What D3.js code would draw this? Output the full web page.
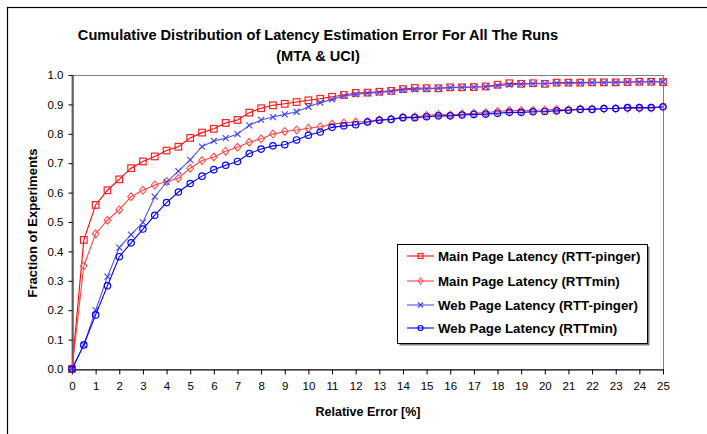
<!DOCTYPE html>
<html><head><meta charset="utf-8">
<script src="https://cdn.jsdelivr.net/npm/d3@7"></script>
<style>
html,body{margin:0;padding:0;background:#fff;}
svg{display:block;font-family:"Liberation Sans",Arial,sans-serif;}
</style></head>
<body><svg id="c" width="707" height="434"></svg>
<script>
const titleLines = ["Cumulative Distribution of Latency Estimation Error For All The Runs", "(MTA & UCI)"];
const xLabel = "Relative Error [%]";
const yLabel = "Fraction of Experiments";
const xTicks = [0,1,2,3,4,5,6,7,8,9,10,11,12,13,14,15,16,17,18,19,20,21,22,23,24,25];
const yTicks = [0,0.1,0.2,0.3,0.4,0.5,0.6,0.7,0.8,0.9,1.0];
const errors = [0,0.5,1,1.5,2,2.5,3,3.5,4,4.5,5,5.5,6,6.5,7,7.5,8,8.5,9,9.5,10,10.5,11,11.5,12,12.5,13,13.5,14,14.5,15,15.5,16,16.5,17,17.5,18,18.5,19,19.5,20,20.5,21,21.5,22,22.5,23,23.5,24,24.5,25];
const seriesNames = ["Main Page Latency (RTT-pinger)","Main Page Latency (RTTmin)","Web Page Latency (RTT-pinger)","Web Page Latency (RTTmin)"];
const mainPinger = [0,0.439,0.558,0.608,0.645,0.683,0.706,0.723,0.743,0.756,0.786,0.804,0.817,0.837,0.847,0.872,0.887,0.897,0.902,0.908,0.914,0.919,0.926,0.932,0.939,0.940,0.943,0.946,0.952,0.956,0.955,0.955,0.958,0.958,0.959,0.961,0.967,0.972,0.970,0.972,0.970,0.974,0.974,0.974,0.975,0.975,0.975,0.976,0.977,0.977,0.976];
const mainMin = [0,0.351,0.460,0.506,0.542,0.586,0.608,0.626,0.638,0.649,0.683,0.709,0.721,0.741,0.754,0.771,0.783,0.799,0.808,0.813,0.819,0.824,0.833,0.837,0.840,0.842,0.848,0.850,0.856,0.858,0.862,0.866,0.864,0.867,0.870,0.872,0.876,0.879,0.879,0.880,0.881,0.883,0.882,0.884,0.884,0.885,0.886,0.887,0.887,0.888,0.891];
const webPinger = [0,0.082,0.200,0.314,0.413,0.457,0.499,0.586,0.636,0.673,0.711,0.756,0.776,0.785,0.799,0.829,0.847,0.857,0.866,0.875,0.892,0.906,0.917,0.929,0.934,0.938,0.941,0.944,0.949,0.951,0.953,0.955,0.957,0.958,0.959,0.960,0.964,0.967,0.969,0.970,0.971,0.972,0.972,0.973,0.974,0.974,0.975,0.976,0.976,0.977,0.977];
const webMin = [0,0.082,0.184,0.283,0.382,0.429,0.476,0.523,0.566,0.602,0.631,0.656,0.678,0.693,0.706,0.733,0.748,0.759,0.763,0.779,0.795,0.806,0.822,0.827,0.831,0.840,0.846,0.849,0.855,0.855,0.858,0.861,0.861,0.864,0.866,0.867,0.870,0.873,0.873,0.875,0.876,0.878,0.880,0.883,0.883,0.886,0.886,0.889,0.889,0.889,0.892];

const svg = d3.select("#c");
const L = 72, R = 663, T = 75, B = 369;
const x = d3.scaleLinear().domain([0,25]).range([L,R]);
const y = d3.scaleLinear().domain([0,1]).range([B,T]);

// outer chart border
svg.append("rect").attr("x",7.5).attr("y",7.5).attr("width",720).attr("height",450)
  .attr("fill","none").attr("stroke","#000").attr("stroke-width",1.2);

// titles
svg.append("text").attr("x",318).attr("y",40).attr("text-anchor","middle")
  .attr("font-weight","bold").attr("font-size",14.6).text(titleLines[0]);
svg.append("text").attr("x",318).attr("y",61).attr("text-anchor","middle")
  .attr("font-weight","bold").attr("font-size",14.6).text(titleLines[1]);

// plot area border (gray)
svg.append("rect").attr("x",L).attr("y",T+0.5).attr("width",R-L+0.5).attr("height",B-T)
  .attr("fill","none").attr("stroke","#808080").attr("stroke-width",1);

// axes
const xAxis = d3.axisBottom(x).tickValues(xTicks).tickSize(5).tickSizeOuter(0).tickFormat(d3.format("d"));
const gx = svg.append("g").attr("transform",`translate(0,${B+0.5})`).call(xAxis);
gx.select(".domain").attr("stroke","#000");
gx.selectAll(".tick line").attr("stroke","#000");
gx.selectAll(".tick text").attr("font-size",11.5).attr("font-family","Liberation Sans, Arial, sans-serif").attr("fill","#000").attr("dy","1.1em");

const yAxis = d3.axisLeft(y).tickValues(yTicks).tickSize(4).tickSizeOuter(0).tickFormat(d3.format(".1f"));
const gy = svg.append("g").attr("transform",`translate(${L+0.5},0)`).call(yAxis);
gy.select(".domain").attr("stroke","#000");
gy.selectAll(".tick line").attr("stroke","#000");
gy.selectAll(".tick text").attr("font-size",11.5).attr("font-family","Liberation Sans, Arial, sans-serif").attr("fill","#000").attr("x",-9);

// axis titles
svg.append("text").attr("x",368).attr("y",416).attr("text-anchor","middle")
  .attr("font-weight","bold").attr("font-size",12.5).text(xLabel);
svg.append("text").attr("transform","translate(37,223) rotate(-90)").attr("text-anchor","middle")
  .attr("font-weight","bold").attr("font-size",13).text(yLabel);

const series = [
  {name:seriesNames[0], vals:mainPinger, color:"#ff0000", mcolor:"#ff2020", marker:"square"},
  {name:seriesNames[1], vals:mainMin, color:"#ff4040", mcolor:"#ff5050", marker:"diamond"},
  {name:seriesNames[2], vals:webPinger, color:"#5050ff", mcolor:"#4040ff", marker:"x"},
  {name:seriesNames[3], vals:webMin, color:"#0000ff", mcolor:"#0000ff", marker:"circle"}
];

function drawMarker(g, type, cx, cy, color, s) {
  if (type==="square") {
    g.append("rect").attr("x",cx-s).attr("y",cy-s).attr("width",2*s).attr("height",2*s)
      .attr("fill","none").attr("stroke",color).attr("stroke-width",1.2);
  } else if (type==="diamond") {
    g.append("path").attr("d",`M${cx},${cy-s-0.5}L${cx+s},${cy}L${cx},${cy+s+0.5}L${cx-s},${cy}Z`)
      .attr("fill","none").attr("stroke",color).attr("stroke-width",1.1);
  } else if (type==="x") {
    g.append("path").attr("d",`M${cx-s},${cy-s}L${cx+s},${cy+s}M${cx-s},${cy+s}L${cx+s},${cy-s}`)
      .attr("fill","none").attr("stroke",color).attr("stroke-width",1.1);
  } else {
    g.append("circle").attr("cx",cx).attr("cy",cy).attr("r",s)
      .attr("fill","none").attr("stroke",color).attr("stroke-width",1.2);
  }
}

const line = d3.line().x((d,i)=>x(errors[i])).y(d=>y(d));
const sizes = {square:3.3, diamond:3.4, x:3, circle:3.2};
series.forEach(s => {
  const g = svg.append("g");
  g.append("path").attr("d",line(s.vals)).attr("fill","none").attr("stroke",s.color).attr("stroke-width",1.1);
  s.vals.forEach((v,i)=>drawMarker(g, s.marker, x(errors[i]), y(v), s.mcolor, sizes[s.marker]));
});

// legend
const lg = svg.append("g");
lg.append("rect").attr("x",399.5).attr("y",246.5).attr("width",250).attr("height",99).attr("fill","#808080");
lg.append("rect").attr("x",397.5).attr("y",244.5).attr("width",250).attr("height",99)
  .attr("fill","#fff").attr("stroke","#000").attr("stroke-width",1);
const rowY = [256,281,305,328];
series.forEach((s,i)=>{
  lg.append("line").attr("x1",407).attr("x2",434).attr("y1",rowY[i]).attr("y2",rowY[i])
    .attr("stroke",s.color).attr("stroke-width",1.1);
  drawMarker(lg, s.marker, 420.5, rowY[i], s.mcolor, 2.5);
  lg.append("text").attr("x",438).attr("y",rowY[i]+4.5).attr("font-weight","bold")
    .attr("font-size",13.3).text(s.name);
});
</script></body></html>
